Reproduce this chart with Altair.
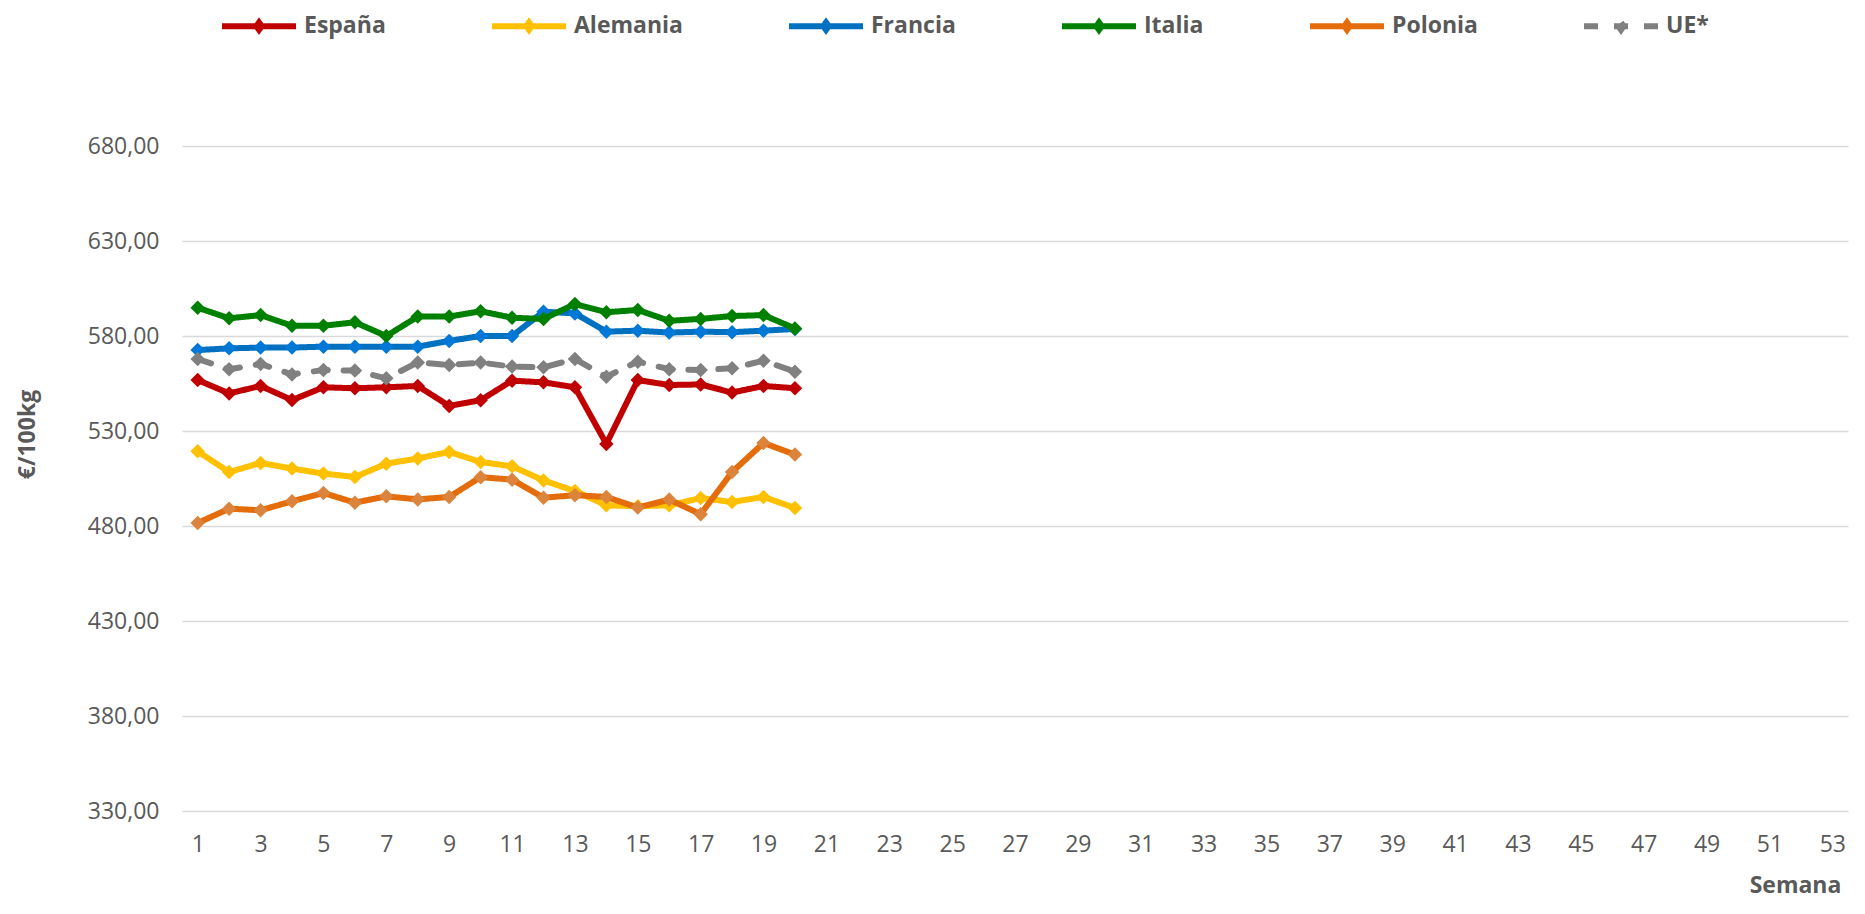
import altair as alt
import pandas as pd

weeks = list(range(1, 21))
series = ["España", "Alemania", "Francia", "Italia", "Polonia", "UE*"]

espana = [556.8, 549.8, 553.7, 546.3, 553.0, 552.5, 553.0, 553.7, 543.2, 546.2,
          556.5, 555.6, 553.0, 523.2, 556.8, 554.2, 554.5, 550.2, 553.7, 552.5]
alemania = [519.3, 508.4, 513.2, 510.2, 507.6, 505.8, 512.8, 515.5, 519.0, 513.7,
            511.4, 504.0, 498.4, 490.9, 490.4, 490.9, 494.7, 492.6, 495.3, 489.5]
francia = [572.6, 573.5, 573.9, 573.9, 574.4, 574.4, 574.4, 574.4, 577.4, 580.0,
           580.0, 592.8, 591.9, 582.3, 582.8, 581.8, 582.3, 582.0, 582.8, 583.7]
italia = [594.9, 589.3, 591.0, 585.4, 585.4, 587.2, 580.0, 590.2, 590.2, 593.0,
          589.6, 589.0, 596.8, 592.5, 593.7, 588.0, 589.0, 590.5, 591.0, 584.0]
polonia = [481.6, 489.1, 488.3, 493.0, 497.4, 492.3, 495.6, 494.0, 495.3, 505.7,
           504.4, 494.9, 496.2, 495.3, 489.7, 493.9, 486.2, 508.4, 523.7, 517.6]
ue = [567.9, 562.5, 565.3, 559.8, 562.1, 561.8, 557.7, 566.1, 564.7, 566.0,
      563.9, 563.5, 567.9, 558.6, 566.5, 562.5, 562.1, 563.0, 567.0, 561.2]

x_ticks = list(range(1, 54, 2))
y_ticks = list(range(330, 681, 50))

line_colors = ["#C00000", "#FFC000", "#0070C0", "#008000", "#E46C0A", "#808080"]
marker_colors = ["#C00000", "#FFC000", "#0078D7", "#008000", "#DC843C", "#808080"]
dashes = [[1, 0], [1, 0], [1, 0], [1, 0], [1, 0], [14, 16]]

rows = []
for s, vals in zip(series, [espana, alemania, francia, italia, polonia, ue]):
    for w, v in zip(weeks, vals):
        rows.append({"Serie": s, "Semana": w, "Valor": v})
df = pd.DataFrame(rows)

FONT = "Open Sans"
GREY = "#595959"

legend = alt.Legend(
    title=None, orient="none", legendX=37, legendY=-160, direction="horizontal",
    columns=6, columnPadding=94, padding=0,
    symbolType="M-1,0L1,0M0,-0.1L0.07,0L0,0.1L-0.07,0Z",
    symbolSize=5476, symbolStrokeWidth=6,
    labelFont=FONT, labelFontSize=23, labelFontWeight="bold",
    labelColor=GREY, labelOffset=5,
)

x_enc = alt.X(
    "Semana:Q",
    scale=alt.Scale(domain=[0.5, 53.5], nice=False, zero=False),
    axis=alt.Axis(
        values=x_ticks, grid=False, ticks=False, domain=False,
        labelFont=FONT, labelFontSize=23, labelColor=GREY, labelPadding=22,
        labelFlush=False, labelOverlap=False,
        title="Semana", titleX=1613, titleY=81, titleAlign="center",
        titleBaseline="alphabetic", titleFont=FONT, titleFontSize=23,
        titleFontWeight="bold", titleColor=GREY,
    ),
)
y_enc = alt.Y(
    "Valor:Q",
    scale=alt.Scale(domain=[330, 680], nice=False, zero=False),
    axis=alt.Axis(
        values=y_ticks, labelExpr="replace(format(datum.value, '.2f'), '.', ',')",
        ticks=False, domain=False, gridColor="#D9D9D9", gridWidth=1.3,
        labelFont=FONT, labelFontSize=23, labelColor=GREY, labelPadding=23,
        title="€/100kg", titleX=-155, titleY=288, titleAngle=270,
        titleBaseline="middle", titleAlign="center", titleFont=FONT,
        titleFontSize=23, titleFontWeight="bold", titleColor=GREY,
    ),
)

color_enc = alt.Color("Serie:N", scale=alt.Scale(domain=series, range=line_colors),
                      legend=legend)
dash_enc = alt.StrokeDash("Serie:N", scale=alt.Scale(domain=series, range=dashes),
                          legend=legend)

layers = []
for s, mc in zip(series, marker_colors):
    base = alt.Chart(df).transform_filter(alt.datum.Serie == s)
    line = base.mark_line(strokeWidth=6, strokeCap="round", strokeJoin="round").encode(
        x=x_enc, y=y_enc, color=color_enc, strokeDash=dash_enc
    )
    pts = base.mark_point(shape="diamond", filled=True, size=210, opacity=1).encode(
        x=x_enc, y=y_enc, color=alt.value(mc)
    )
    layers += [line, pts]

chart = alt.layer(*layers).properties(
    width=1666, height=665,
    autosize=alt.AutoSizeParams(type="none"),
    padding={"left": 174, "top": 138, "right": 1, "bottom": 89},
).configure_view(stroke=None)

chart.save("out.html", embed_options={"renderer": "svg", "actions": False})
